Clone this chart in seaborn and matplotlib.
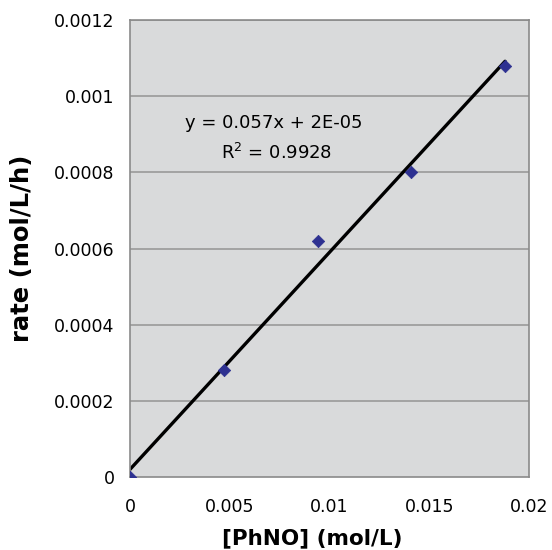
import numpy as np
import pandas as pd
import matplotlib
matplotlib.use("Agg")
import matplotlib.pyplot as plt
import seaborn as sns

phno = [0.0, 0.0047, 0.0094, 0.0141, 0.0188]
rate = [0.0, 0.00028, 0.00062, 0.0008, 0.00108]
slope = 0.057
intercept = 2e-05
x_ticks = [0, 0.005, 0.01, 0.015, 0.02]
x_labels = ["0", "0.005", "0.01", "0.015", "0.02"]
y_ticks = [0, 0.0002, 0.0004, 0.0006, 0.0008, 0.001, 0.0012]
y_labels = ["0", "0.0002", "0.0004", "0.0006", "0.0008", "0.001", "0.0012"]

sns.set_style("white")
plt.rcParams['font.family'] = ['DejaVu Sans']
plt.rcParams['text.color'] = 'black'
plt.rcParams['axes.labelcolor'] = 'black'
plt.rcParams['xtick.color'] = 'black'
plt.rcParams['ytick.color'] = 'black'

df = pd.DataFrame({"x": phno, "y": rate})
fit = pd.DataFrame({"x": [min(phno), max(phno)]})
fit["y"] = slope * fit["x"] + intercept

fig = plt.figure(figsize=(5.52, 5.5), dpi=100)
ax = fig.add_axes([130/552, 1 - 477/550, (529-130)/552, (477-20)/550])
ax.set_facecolor("#d9dadb")

for yt in y_ticks[1:]:
    ax.axhline(yt, color="#9a9a9a", lw=1.2, zorder=0)

sns.lineplot(data=fit, x="x", y="y", ax=ax, color="black", lw=2.4, zorder=2)
sns.scatterplot(data=df, x="x", y="y", ax=ax, marker="D", s=40,
                color="#2e3191", edgecolor="#2e3191", zorder=3)

ax.set_xlim(0, 0.02)
ax.set_ylim(0, 0.0012)
ax.set_xticks(x_ticks)
ax.set_xticklabels(x_labels)
ax.set_yticks(y_ticks)
ax.set_yticklabels(y_labels)
ax.tick_params(axis="both", labelsize=12.5, direction="out", length=4,
               color="#8a8a8a", labelcolor="black", width=1)
ax.tick_params(axis="x", pad=11)
ax.tick_params(axis="y", pad=7)
for sp in ax.spines.values():
    sp.set_color("#8a8a8a")
    sp.set_linewidth(1.2)

ax.set_xlabel("[PhNO] (mol/L)", fontsize=15.5, fontweight="bold", color="black")
ax.set_ylabel("rate (mol/L/h)", fontsize=17.5, fontweight="bold", color="black")
ax.xaxis.set_label_coords((312-130)/399, (477-528)/457)
ax.yaxis.set_label_coords((34-130)/399, 0.5)

ax.text(0.00722, 0.00093, "y = 0.057x + 2E-05", fontsize=13, ha="center", va="center", color="black")
ax.text(0.00737, 0.00085, "R$^2$ = 0.9928", fontsize=13, ha="center", va="center", color="black")

fig.savefig("out.png", dpi=100, facecolor="white")
